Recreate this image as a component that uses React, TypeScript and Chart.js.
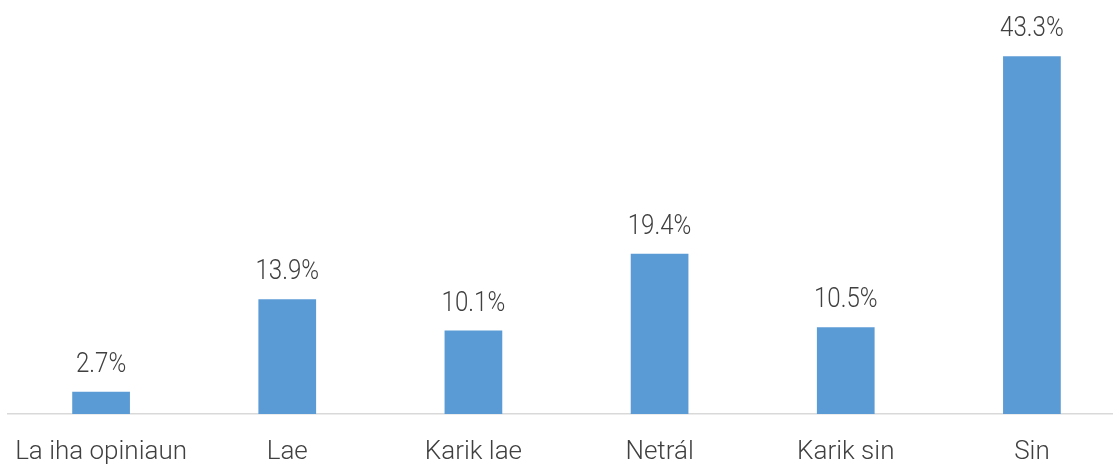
import React, { useEffect, useRef } from "react";
import { Chart, registerables } from "chart.js";

Chart.register(...registerables);

const categories = ["La iha opiniaun", "Lae", "Karik lae", "Netrál", "Karik sin", "Sin"];
const values = [2.7, 13.9, 10.1, 19.4, 10.5, 43.3];
const valueLabels = ["2.7%", "13.9%", "10.1%", "19.4%", "10.5%", "43.3%"];

const FONT = "Roboto";
const TEXT = "#404040";

const labelPlugin = {
  id: "valueLabels",
  afterDatasetsDraw(chart: any) {
    const ctx = chart.ctx;
    const meta = chart.getDatasetMeta(0);
    ctx.save();
    ctx.font = `300 28px ${FONT}`;
    ctx.fillStyle = TEXT;
    ctx.textAlign = "center";
    ctx.textBaseline = "alphabetic";
    meta.data.forEach((bar: any, i: number) => {
      ctx.save();
      ctx.translate(bar.x, bar.y - 20);
      ctx.scale(0.86, 1);
      ctx.fillText(valueLabels[i], 0, 0);
      ctx.restore();
    });
    ctx.restore();
  },
};

export default function App() {
  const ref = useRef<HTMLCanvasElement>(null);
  useEffect(() => {
    if (!ref.current) return;
    const chart = new Chart(ref.current, {
      type: "bar",
      data: {
        labels: categories,
        datasets: [
          {
            data: values,
            backgroundColor: "#5b9bd5",
            barPercentage: 0.31,
            categoryPercentage: 1,
          },
        ],
      },
      options: {
        animation: false,
        responsive: false,
        maintainAspectRatio: false,
        layout: { padding: { left: 8, right: 0, top: 1, bottom: 0 } },
        plugins: { legend: { display: false }, tooltip: { enabled: false } },
        scales: {
          y: { display: false, min: 0, max: 50 },
          x: {
            grid: { display: false, drawTicks: false },
            border: { color: "#d9d9d9", width: 1.5 },
            ticks: {
              color: TEXT,
              font: { family: FONT, size: 26, weight: "300" as any },
              padding: 23,
              maxRotation: 0,
              autoSkip: false,
            },
            afterFit(scale: any) {
              scale.height = 51;
              scale.paddingLeft = 0;
              scale.paddingRight = 0;
            },
          },
        },
      },
      plugins: [labelPlugin],
    });
    return () => chart.destroy();
  }, []);
  return (
    <div style={{ position: "absolute", left: 0, top: 0, width: 1113, height: 465, overflow: "hidden", background: "#fff" }}>
      <canvas ref={ref} width={1125} height={465} style={{ display: "block" }} />
    </div>
  );
}
